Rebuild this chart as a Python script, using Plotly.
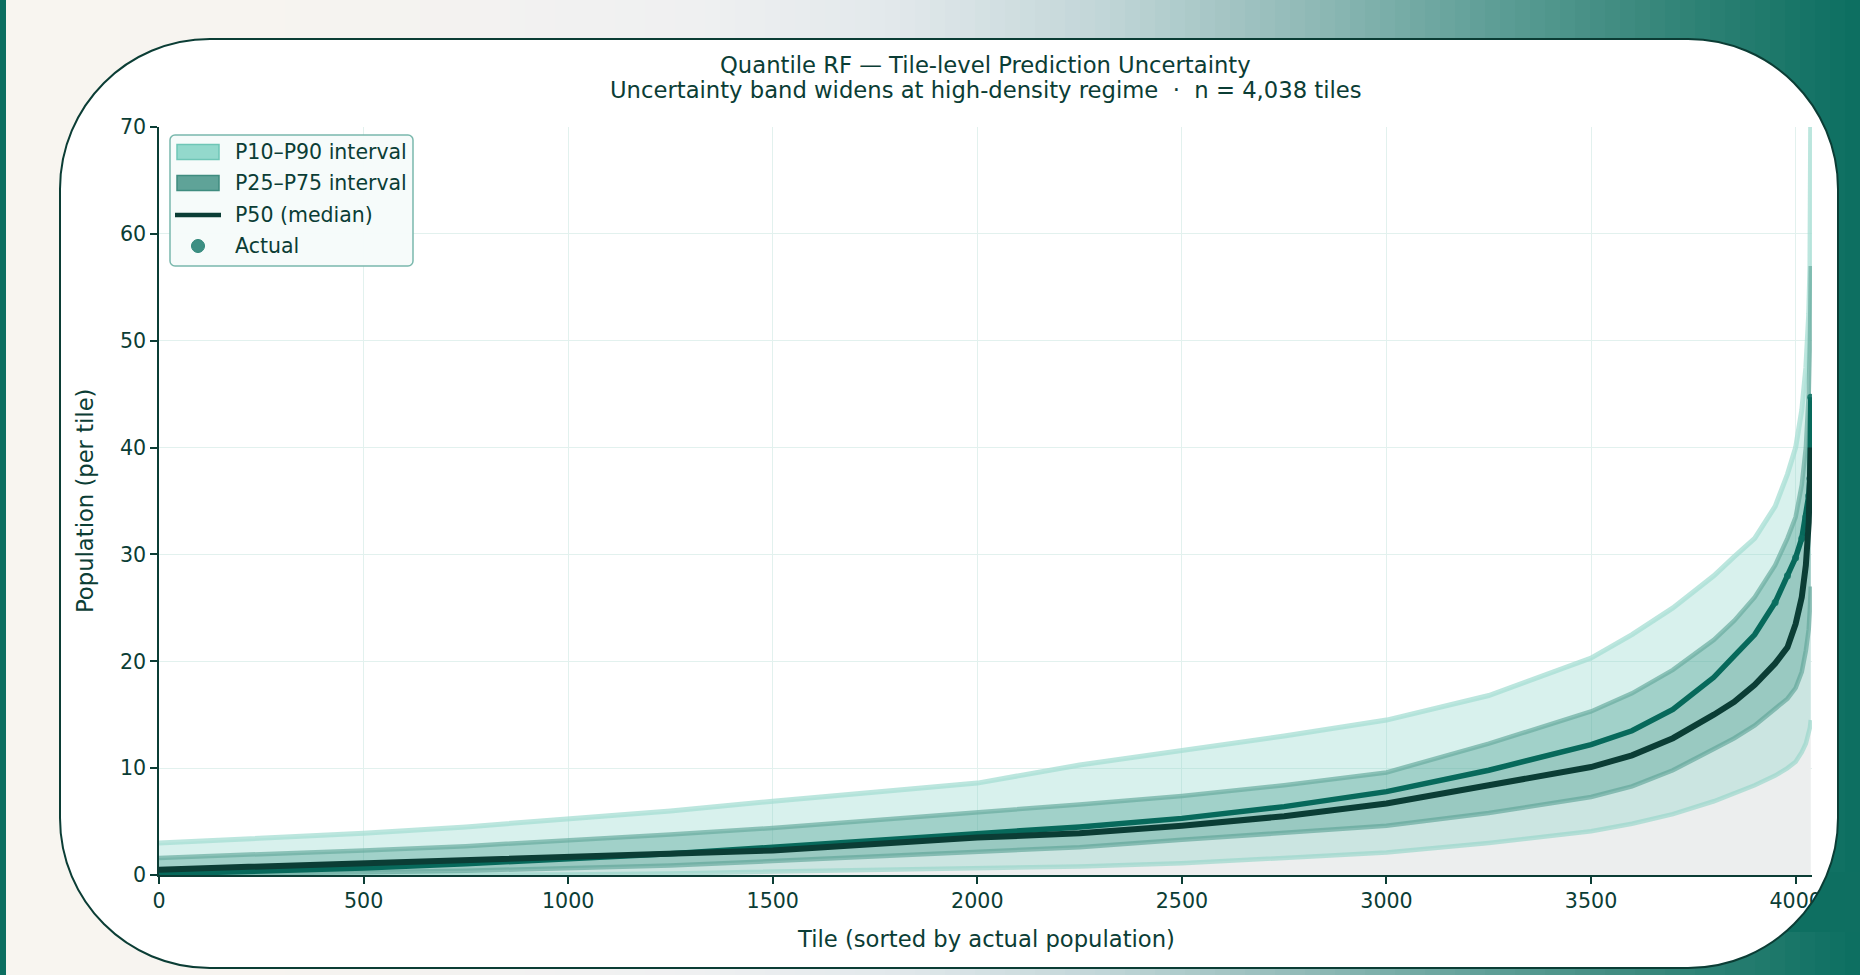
import math
import plotly.graph_objects as go

# ---------------- data ----------------
tile = [0, 250, 500, 750, 1000, 1250, 1500, 1750, 2000, 2250, 2500, 2750, 3000, 3250,
        3500, 3600, 3700, 3800, 3850, 3900, 3950, 3980, 4000, 4015, 4025, 4032, 4035, 4037]
actual = [0.1, 0.35, 0.65, 1.05, 1.5, 2.0, 2.6, 3.2, 3.9, 4.5, 5.3, 6.4, 7.8, 9.8,
          12.2, 13.5, 15.5, 18.5, 20.5, 22.5, 25.5, 28.0, 29.7, 31.5, 33.5, 35.5, 37.1, 44.7]
p50 = [0.5, 0.8, 1.0, 1.3, 1.6, 1.9, 2.3, 2.9, 3.5, 3.9, 4.6, 5.5, 6.7, 8.4,
       10.1, 11.2, 12.8, 15.0, 16.2, 17.8, 19.8, 21.3, 23.5, 26.0, 29.0, 33.0, 36.5, 40.0]
p90 = [3.0, 3.4, 3.9, 4.5, 5.2, 6.0, 6.9, 7.7, 8.6, 10.3, 11.6, 13.0, 14.5, 16.8,
       20.3, 22.5, 25.0, 28.0, 29.8, 31.5, 34.5, 37.5, 40.0, 43.5, 47.5, 52.5, 57.0, 72.0]
p75 = [1.6, 1.9, 2.3, 2.7, 3.2, 3.8, 4.4, 5.1, 5.8, 6.6, 7.4, 8.4, 9.6, 12.3,
       15.3, 17.0, 19.2, 22.0, 23.8, 26.0, 29.0, 31.5, 33.5, 36.5, 40.0, 45.0, 50.0, 57.0]
p25 = [0.1, 0.15, 0.25, 0.4, 0.6, 0.9, 1.3, 1.7, 2.1, 2.6, 3.3, 3.9, 4.6, 5.8,
       7.3, 8.3, 9.8, 11.8, 12.8, 14.0, 15.5, 16.5, 17.5, 19.0, 21.0, 23.0, 25.0, 27.0]
p10 = [0.0, 0.0, 0.0, 0.02, 0.05, 0.15, 0.3, 0.45, 0.6, 0.8, 1.1, 1.6, 2.1, 3.0,
       4.1, 4.8, 5.7, 6.9, 7.6, 8.4, 9.3, 10.0, 10.6, 11.5, 12.3, 13.2, 13.8, 14.5]

x_ticks = [0, 500, 1000, 1500, 2000, 2500, 3000, 3500, 4000]
y_ticks = [0, 10, 20, 30, 40, 50, 60, 70]
legend_labels = ["P10–P90 interval", "P25–P75 interval", "P50 (median)", "Actual"]

title1 = "Quantile RF — Tile-level Prediction Uncertainty"
title2 = "Uncertainty band widens at high-density regime\u00a0\u00a0·\u00a0\u00a0n = 4,038 tiles"
x_label = "Tile (sorted by actual population)"
y_label = "Population (per tile)"

# ---------------- styling ----------------
W, H = 1860, 975
ML, MR, MT, MB = 159, 48, 127, 100
PW, PH = W - ML - MR, H - MT - MB
DARK = "#0b3d35"
FONT = "DejaVu Sans"
TITLE_SIZE = 22.7
TICK_SIZE = 20.6
LEG_SIZE = 20.5


def px(x):
    return (x - ML) / PW


def py(y):
    return (H - MB - y) / PH


fig = go.Figure()

# grey area under the actual curve
fig.add_trace(go.Scatter(x=tile, y=actual, mode="lines", line=dict(width=0),
                         fill="tozeroy", fillcolor="#eceeee", showlegend=False,
                         hoverinfo="skip"))
# P10-P90 band
fig.add_trace(go.Scatter(x=tile, y=p10, mode="lines",
                         line=dict(color="rgba(150,214,202,0.65)", width=4.5),
                         showlegend=False, hoverinfo="skip"))
fig.add_trace(go.Scatter(x=tile, y=p90, mode="lines",
                         line=dict(color="rgba(165,222,211,0.75)", width=5),
                         fill="tonexty", fillcolor="rgba(127,209,194,0.30)",
                         showlegend=False, hoverinfo="skip"))
# P25-P75 band
fig.add_trace(go.Scatter(x=tile, y=p25, mode="lines",
                         line=dict(color="rgba(95,165,152,0.65)", width=4.5),
                         showlegend=False, hoverinfo="skip"))
fig.add_trace(go.Scatter(x=tile, y=p75, mode="lines",
                         line=dict(color="rgba(105,172,160,0.7)", width=4.5),
                         fill="tonexty", fillcolor="rgba(60,150,135,0.35)",
                         showlegend=False, hoverinfo="skip"))
# actual (sorted): continuous run of dots, separate dots visible in the tail
fig.add_trace(go.Scatter(x=tile, y=actual, mode="lines",
                         line=dict(color="#07695b", width=5.5),
                         showlegend=False, hoverinfo="skip"))
tail_x = [t for t in tile if t >= 3950]
tail_y = [a for t, a in zip(tile, actual) if t >= 3950]
fig.add_trace(go.Scatter(x=tail_x, y=tail_y, mode="markers",
                         marker=dict(color="rgba(11,110,96,0.85)", size=7),
                         showlegend=False, hoverinfo="skip"))
# median
fig.add_trace(go.Scatter(x=tile, y=p50, mode="lines",
                         line=dict(color=DARK, width=6),
                         showlegend=False, hoverinfo="skip"))

# ---------------- background: gradient + card ----------------
stops = [(0, (248, 245, 240)), (250, (247, 244, 240)), (700, (239, 240, 241)),
         (900, (225, 232, 235)), (1100, (194, 214, 216)), (1300, (146, 187, 184)),
         (1500, (92, 157, 149)), (1700, (45, 129, 116)), (1860, (11, 110, 96))]


def grad(xp):
    for (a, ca), (b, cb) in zip(stops[:-1], stops[1:]):
        if a <= xp <= b:
            t = (xp - a) / (b - a)
            return "rgb(%d,%d,%d)" % tuple(round(ca[i] + (cb[i] - ca[i]) * t) for i in range(3))
    return "rgb(11,110,96)"


shapes = []
step = 15
for x0 in range(0, W, step):
    x1 = min(W, x0 + step)
    shapes.append(dict(type="rect", xref="paper", yref="paper", layer="below",
                       x0=px(x0), x1=px(x1 + 1), y0=py(H), y1=py(0),
                       fillcolor=grad(x0 + step / 2), line=dict(width=0)))
# left teal strip
shapes.append(dict(type="rect", xref="paper", yref="paper", layer="below",
                   x0=px(0), x1=px(6), y0=py(H), y1=py(0),
                   fillcolor="#0b6e60", line=dict(width=0)))

L, R, T, B, r = 60, 1838, 39, 968, 150
k = 0.5523 * r


def P(x, y):
    return "%.6f,%.6f" % (px(x), py(y))


def rounded(l, t, rr, b, rad):
    kk = 0.5523 * rad
    return ("M " + P(l + rad, t) + " L " + P(rr - rad, t) +
            " C " + P(rr - rad + kk, t) + " " + P(rr, t + rad - kk) + " " + P(rr, t + rad) +
            " L " + P(rr, b - rad) +
            " C " + P(rr, b - rad + kk) + " " + P(rr - rad + kk, b) + " " + P(rr - rad, b) +
            " L " + P(l + rad, b) +
            " C " + P(l + rad - kk, b) + " " + P(l, b - rad + kk) + " " + P(l, b - rad) +
            " L " + P(l, t + rad) +
            " C " + P(l, t + rad - kk) + " " + P(l + rad - kk, t) + " " + P(l + rad, t) + " Z")


card = rounded(L, T, R, B, r)
shapes.append(dict(type="path", xref="paper", yref="paper", layer="below", path=card,
                   fillcolor="white", line=dict(width=0)))

# cover where the card corner clips the last tick label
cx, cy = R - r, B - r
pts = []
for yy in range(872, 934, 6):
    dx = math.sqrt(max(0.0, r * r - (yy - cy) ** 2))
    pts.append((cx + dx, yy))
cover = "M " + " L ".join(P(a, b) for a, b in pts) + " L " + P(W, pts[-1][1]) + " L " + P(W, pts[0][1]) + " Z"
shapes.append(dict(type="path", xref="paper", yref="paper", layer="above", path=cover,
                   fillcolor="#0e6f61", line=dict(width=0)))
shapes.append(dict(type="path", xref="paper", yref="paper", layer="above", path=card,
                   fillcolor="rgba(0,0,0,0)", line=dict(color=DARK, width=2)))

# ---------------- legend (drawn by hand to match the swatch geometry) ----------------
LG_L, LG_T, LG_R, LG_B = 170, 135, 413, 266
shapes.append(dict(type="path", xref="paper", yref="paper", layer="above",
                   path=rounded(LG_L, LG_T, LG_R, LG_B, 5),
                   fillcolor="rgba(245,251,250,0.95)", line=dict(color="#7ab8ad", width=1.5)))
row_y = [152, 183, 215, 246]
shapes.append(dict(type="rect", xref="paper", yref="paper", layer="above",
                   x0=px(177), x1=px(219), y0=py(row_y[0] + 7.5), y1=py(row_y[0] - 7.5),
                   fillcolor="#93d9cc", line=dict(color="#6fc6b6", width=1.5)))
shapes.append(dict(type="rect", xref="paper", yref="paper", layer="above",
                   x0=px(177), x1=px(219), y0=py(row_y[1] + 7.5), y1=py(row_y[1] - 7.5),
                   fillcolor="#5fa398", line=dict(color="#3f8c7f", width=1.5)))
shapes.append(dict(type="line", xref="paper", yref="paper", layer="above",
                   x0=px(175), x1=px(221), y0=py(row_y[2]), y1=py(row_y[2]),
                   line=dict(color=DARK, width=4.5)))
shapes.append(dict(type="circle", xref="paper", yref="paper", layer="above",
                   x0=px(198 - 6.5), x1=px(198 + 6.5), y0=py(row_y[3] + 6.5), y1=py(row_y[3] - 6.5),
                   fillcolor="#3d8f83", line=dict(color="#2f8779", width=1)))

annotations = [
    dict(text=title1, x=0.5, y=py(65), xref="paper", yref="paper", showarrow=False,
         xanchor="center", yanchor="middle", font=dict(size=TITLE_SIZE, color=DARK, family=FONT)),
    dict(text=title2, x=0.5, y=py(90), xref="paper", yref="paper", showarrow=False,
         xanchor="center", yanchor="middle", font=dict(size=TITLE_SIZE, color=DARK, family=FONT)),
    dict(text=x_label, x=0.5, y=py(939), xref="paper", yref="paper", showarrow=False,
         xanchor="center", yanchor="middle", font=dict(size=TITLE_SIZE, color=DARK, family=FONT)),
    dict(text=y_label, x=px(85), y=0.5, xref="paper", yref="paper", showarrow=False,
         xanchor="center", yanchor="middle", textangle=-90,
         font=dict(size=TITLE_SIZE, color=DARK, family=FONT)),
]
for lab, yy in zip(legend_labels, row_y):
    annotations.append(dict(text=lab, x=px(233), y=py(yy), xref="paper", yref="paper",
                            showarrow=False, xanchor="left", yanchor="middle",
                            font=dict(size=LEG_SIZE, color=DARK, family=FONT)))

fig.update_layout(
    width=W, height=H, margin=dict(l=ML, r=MR, t=MT, b=MB, pad=0),
    paper_bgcolor="#f8f5f0", plot_bgcolor="rgba(0,0,0,0)",
    font=dict(family=FONT, color=DARK, size=TICK_SIZE),
    shapes=shapes, annotations=annotations,
    showlegend=False,
)
fig.update_xaxes(range=[0, 4040], tickvals=x_ticks, ticktext=[str(v) for v in x_ticks],
                 showgrid=True, gridcolor="#e2f1ee", gridwidth=1, zeroline=False,
                 showline=True, linecolor=DARK, linewidth=1.5,
                 ticks="outside", ticklen=7, tickwidth=1.5, tickcolor=DARK,
                 tickfont=dict(size=TICK_SIZE, color=DARK, family=FONT))
fig.update_yaxes(range=[0, 70], tickvals=y_ticks, ticktext=[str(v) for v in y_ticks],
                 showgrid=True, gridcolor="#e2f1ee", gridwidth=1, zeroline=False,
                 showline=True, linecolor=DARK, linewidth=1.5,
                 ticks="outside", ticklen=7, tickwidth=1.5, tickcolor=DARK,
                 tickfont=dict(size=TICK_SIZE, color=DARK, family=FONT))

fig.write_html("out.html", config={"displayModeBar": False},
               post_script="document.body.style.margin='0';document.body.style.overflow='hidden';")
